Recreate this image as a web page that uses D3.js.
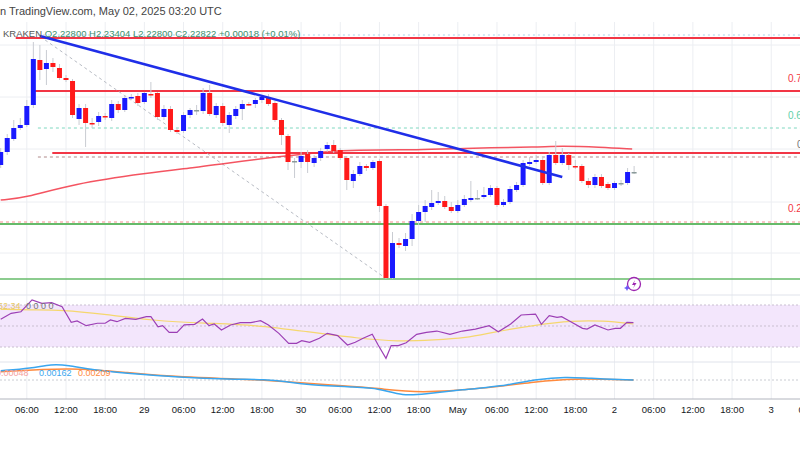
<!DOCTYPE html>
<html>
<head>
<meta charset="utf-8">
<script src="https://cdn.jsdelivr.net/npm/d3@7"></script>
<style>
  body { margin: 0; background: #fff; overflow: hidden; }
  text { font-family: "Liberation Sans", Arial, sans-serif; }
</style>
</head>
<body>
<div id="chart"></div>
<script>
// hourly candles, index 0 = Apr 28 02:00 UTC ; [open, high, low, close]
var candles = [
  [2.235,2.252,2.232,2.248],[2.248,2.266,2.245,2.262],[2.261,2.280,2.259,2.272],[2.272,2.282,2.270,2.275],
  [2.275,2.300,2.273,2.294],[2.295,2.358,2.292,2.341],[2.340,2.355,2.320,2.330],[2.331,2.350,2.315,2.337],
  [2.337,2.342,2.328,2.333],[2.332,2.336,2.320,2.322],[2.322,2.325,2.318,2.320],[2.319,2.321,2.282,2.285],
  [2.281,2.296,2.275,2.292],[2.292,2.296,2.253,2.277],[2.277,2.282,2.272,2.276],[2.278,2.288,2.274,2.284],
  [2.284,2.287,2.280,2.283],[2.282,2.300,2.279,2.296],[2.296,2.299,2.287,2.290],[2.290,2.305,2.288,2.302],
  [2.302,2.306,2.300,2.303],[2.304,2.307,2.294,2.297],[2.298,2.308,2.296,2.307],[2.306,2.318,2.302,2.305],
  [2.307,2.308,2.280,2.283],[2.283,2.295,2.280,2.291],[2.291,2.294,2.268,2.270],[2.270,2.272,2.266,2.268],
  [2.269,2.288,2.267,2.285],[2.285,2.292,2.282,2.290],[2.290,2.295,2.285,2.290],[2.289,2.312,2.286,2.307],
  [2.307,2.315,2.284,2.286],[2.285,2.297,2.282,2.294],[2.294,2.297,2.274,2.277],[2.275,2.288,2.267,2.285],
  [2.284,2.294,2.281,2.291],[2.291,2.300,2.280,2.296],[2.296,2.298,2.294,2.295],[2.296,2.302,2.292,2.300],
  [2.300,2.305,2.297,2.303],[2.303,2.306,2.294,2.296],[2.297,2.299,2.278,2.280],[2.280,2.282,2.255,2.265],
  [2.264,2.266,2.230,2.238],[2.239,2.242,2.222,2.239],[2.238,2.248,2.232,2.244],[2.246,2.250,2.227,2.238],
  [2.237,2.245,2.233,2.242],[2.242,2.252,2.239,2.249],[2.251,2.258,2.248,2.255],[2.255,2.260,2.247,2.249],
  [2.250,2.252,2.240,2.242],[2.242,2.244,2.210,2.220],[2.219,2.230,2.212,2.226],[2.226,2.238,2.224,2.234],
  [2.234,2.236,2.229,2.232],[2.232,2.240,2.230,2.238],[2.239,2.241,2.188,2.194],[2.194,2.196,2.121,2.122],
  [2.122,2.168,2.121,2.157],[2.157,2.162,2.152,2.155],[2.154,2.167,2.149,2.161],[2.161,2.186,2.154,2.179],
  [2.179,2.195,2.175,2.188],[2.188,2.200,2.178,2.194],[2.193,2.210,2.190,2.197],[2.197,2.208,2.195,2.199],
  [2.199,2.204,2.191,2.193],[2.193,2.198,2.187,2.189],[2.189,2.200,2.187,2.195],[2.195,2.205,2.193,2.201],
  [2.200,2.219,2.198,2.202],[2.202,2.210,2.200,2.202],[2.203,2.213,2.201,2.205],[2.205,2.215,2.203,2.212],
  [2.212,2.214,2.193,2.195],[2.195,2.201,2.193,2.198],[2.198,2.214,2.196,2.211],[2.210,2.218,2.208,2.215],
  [2.215,2.240,2.213,2.237],[2.236,2.243,2.234,2.238],[2.238,2.245,2.236,2.240],[2.240,2.244,2.215,2.217],
  [2.217,2.248,2.215,2.245],[2.245,2.259,2.235,2.237],[2.237,2.252,2.235,2.245],[2.245,2.247,2.230,2.235],
  [2.234,2.240,2.231,2.233],[2.234,2.236,2.217,2.219],[2.219,2.222,2.212,2.215],[2.215,2.226,2.212,2.223],
  [2.223,2.226,2.212,2.214],[2.216,2.218,2.210,2.212],[2.212,2.219,2.210,2.217],[2.217,2.220,2.214,2.217],
  [2.217,2.232,2.215,2.228],[2.228,2.234,2.226,2.228]
];

// moving average (red) [index, price]
var maLine = [[0,2.200],[3.7,2.202],[11,2.216],[22.4,2.227],[30.5,2.233],[33.6,2.236],[43.2,2.244],
  [50.9,2.249],[53.5,2.250],[64.2,2.250],[71.9,2.252],[82.6,2.253],[85.6,2.254],[91.8,2.253],[96.7,2.251]];

// horizontal levels
var fibLevels = [
  {p:2.362, c:"#f23645", w:2, dash:null, x0:2.3},
  {p:2.309, c:"#f23645", w:2, dash:null, x0:4.8},
  {p:2.272, c:"#7fd8c0", w:1, dash:"3,3", x0:5.7},
  {p:2.247, c:"#f23645", w:2, dash:null, x0:7.9},
  {p:2.243, c:"#b08a8a", w:1, dash:"3,3", x0:5.7},
  {p:2.178, c:"#f28c8c", w:1, dash:"3,3", x0:-1},
  {p:2.176, c:"#66bb6a", w:2, dash:null, x0:-1},
  {p:2.121, c:"#66bb6a", w:1.5, dash:null, x0:-1},
  {p:2.365, c:"#a9d4e8", w:1, dash:"2,3", x0:5.7}
];
var fibLabels = [
  {p:2.318, t:"0.786", c:"#f23645", x:788},
  {p:2.281, t:"0.618", c:"#5fcfaa", x:788},
  {p:2.252, t:"0.5", c:"#777", x:797},
  {p:2.188, t:"0.236", c:"#f23645", x:788}
];
var trendLine = [[6.0,2.364],[86,2.223]];
var fibDiag = [[6.8,2.360],[58.9,2.122]];
var gridPrices = [2.355,2.303,2.251,2.198,2.147];

// RSI
var rsi = [[0,56.4],[1.6,62.1],[3.1,63.6],[4.8,74.8],[6.3,71.6],[7.8,72.2],[9.4,68.4],[10.8,53.5],[11.7,54.8],
  [13.1,50.3],[14.8,52.6],[16,52.6],[16.8,55.7],[17.8,54.1],[19.1,57.3],[20.7,56.4],[22.3,58.9],[23,58.9],
  [24.1,49.3],[24.8,50.3],[25.8,44],[27,44],[28.1,51],[29.7,51.6],[30.9,56.7],[31.9,50.3],[32.7,51.9],
  [33.8,46.2],[35.2,51],[36.7,53.2],[38.3,53.2],[39.8,55.1],[41,51],[42.6,43],[44.1,33.5],[45.3,33.5],
  [46.1,36],[47.3,34.5],[48.8,38.3],[50,43],[51.6,40.8],[53.1,31.9],[54.3,34.5],[55.5,38.3],[56.9,42.1],
  [57.8,31.9],[59,19.2],[59.8,31.3],[60.9,31.3],[62.1,34.1],[63.7,42.1],[65.2,44],[66.8,45.2],[68.8,42.1],
  [70.7,45.2],[72.7,47.1],[74.8,50.3],[76.2,44.6],[78.1,51.9],[79.7,60.5],[81.9,61.4],[82.8,51.6],[84,59.8],
  [85.2,58.3],[85.9,58.9],[87.3,54.1],[89.1,47.8],[89.8,47.1],[91,51],[93,46.2],[94.1,47.8],[94.9,47.8],
  [95.9,53.5],[96.9,53.2]];
var rsiMa = [[0,65.9],[4.7,65.2],[9.4,65.2],[15.6,61.4],[23.4,55.1],[31.3,52.6],[39.1,51],[46.9,44.6],
  [54.7,38.3],[60.9,35.1],[66.4,36.7],[71.1,38.3],[75.8,44.6],[82,51],[87.5,55.1],[92.2,55.1],[96.9,51.9]];

// MACD
var macd = [[0,0.00093],[4.7,0.00117],[7.8,0.0016],[10.2,0.0015],[14.1,0.001],[19.5,0.00067],[27.3,0.00027],
  [35.2,0.00007],[40.6,0.00007],[43.8,-0.00017],[46.9,-0.0005],[54.7,-0.00073],[57.8,-0.00083],[61.7,-0.0016],
  [64.8,-0.0014],[70.3,-0.001],[78.1,-0.0005],[82,0.00007],[86.7,0.00033],[89.8,0.00017],[96.9,0]];
var signal = [[0,0.00083],[10.9,0.00127],[19.5,0.00073],[27.3,0.00027],[39.1,0.00007],[46.9,-0.00033],
  [54.7,-0.00067],[57.8,-0.00083],[64.1,-0.00133],[74.2,-0.00083],[82,-0.00017],[87.5,0.00017],[96.9,0]];

// time axis ticks (hour index)
var tickIdx = [4,10,16,22,28,34,40,46,52,58,64,70,76,82,88,94,100,106,112,118,124];
var tickLabels = ["06:00","12:00","18:00","29","06:00","12:00","18:00","30","06:00","12:00","18:00","May",
  "06:00","12:00","18:00","2","06:00","12:00","18:00","3","06:00"];

var W = 800, H = 449;
var svg = d3.select("#chart").append("svg").attr("width", W).attr("height", H);

var x = d3.scaleLinear().domain([0, 1]).range([0.7, 7.23]);
var y = d3.scaleLinear().domain([2.40, 2.105]).range([0, 295]);
var yR = d3.scaleLinear().domain([30, 70]).range([347, 305]);
var yM = d3.scaleLinear().domain([0, 0.001]).range([380, 370]);

// grid
svg.append("g").selectAll("line").data(tickIdx).enter().append("line")
  .attr("x1", d => x(d)).attr("x2", d => x(d)).attr("y1", 22).attr("y2", 399)
  .attr("stroke", "#eceef2");
svg.append("g").selectAll("line").data(gridPrices).enter().append("line")
  .attr("x1", 0).attr("x2", W).attr("y1", d => y(d)).attr("y2", d => y(d))
  .attr("stroke", "#eceef2");
[295, 362].forEach(function (v) {
  svg.append("line").attr("x1", 0).attr("x2", W).attr("y1", v).attr("y2", v).attr("stroke", "#e0e3eb");
});

// levels
svg.append("g").selectAll("line").data(fibLevels).enter().append("line")
  .attr("x1", d => Math.max(0, x(d.x0))).attr("x2", W)
  .attr("y1", d => y(d.p)).attr("y2", d => y(d.p))
  .attr("stroke", d => d.c).attr("stroke-width", d => d.w)
  .attr("stroke-dasharray", d => d.dash);
svg.append("g").selectAll("text").data(fibLabels).enter().append("text")
  .attr("x", d => d.x).attr("y", d => y(d.p)).attr("font-size", 10)
  .attr("fill", d => d.c).text(d => d.t);

var line = d3.line().x(d => x(d[0]));
svg.append("path").datum(fibDiag)
  .attr("d", line.y(d => y(d[1]))).attr("fill", "none")
  .attr("stroke", "#b8bcc4").attr("stroke-dasharray", "3,3");
svg.append("path").datum(maLine)
  .attr("d", d3.line().x(d => x(d[0])).y(d => y(d[1])).curve(d3.curveBasis))
  .attr("fill", "none").attr("stroke", "#f23645").attr("stroke-width", 1.5).attr("opacity", 0.85);

// candles
function col(d) { return d[3] > d[0] ? "#1a1aff" : d[3] < d[0] ? "#ff1a1a" : "#8a9a9a"; }
var cg = svg.append("g");
cg.selectAll("line").data(candles).enter().append("line")
  .attr("x1", (d, i) => x(i)).attr("x2", (d, i) => x(i))
  .attr("y1", d => y(d[1])).attr("y2", d => y(d[2]))
  .attr("stroke", "#c9ccd2");
cg.selectAll("rect").data(candles).enter().append("rect")
  .attr("x", (d, i) => x(i) - 2.5).attr("width", 5)
  .attr("y", d => y(Math.max(d[0], d[3])))
  .attr("height", d => Math.max(1.5, Math.abs(y(d[0]) - y(d[3]))))
  .attr("fill", col);

svg.append("path").datum(trendLine)
  .attr("d", d3.line().x(d => x(d[0])).y(d => y(d[1])))
  .attr("stroke", "#1f2ee8").attr("stroke-width", 2.5);

// RSI pane
svg.append("rect").attr("x", 0).attr("width", W).attr("y", yR(70)).attr("height", yR(30) - yR(70))
  .attr("fill", "#f3e6fc");
[70, 50, 30].forEach(function (v) {
  svg.append("line").attr("x1", 0).attr("x2", W).attr("y1", yR(v)).attr("y2", yR(v))
    .attr("stroke", "#c9bfd0").attr("stroke-dasharray", "2,2");
});
svg.append("path").datum(rsiMa)
  .attr("d", d3.line().x(d => x(d[0])).y(d => yR(d[1])).curve(d3.curveBasis))
  .attr("fill", "none").attr("stroke", "#f5d76e").attr("stroke-width", 1.2);
svg.append("path").datum(rsi)
  .attr("d", d3.line().x(d => x(d[0])).y(d => yR(d[1])))
  .attr("fill", "none").attr("stroke", "#9c3fb5").attr("stroke-width", 1.2);
svg.append("text").attr("x", -2).attr("y", 309).attr("font-size", 9).attr("fill", "#e8c860").text("52.34");
svg.append("text").attr("x", 26).attr("y", 309).attr("font-size", 9).attr("fill", "#777").text("0  0  0  0");

// MACD pane
svg.append("line").attr("x1", 0).attr("x2", W).attr("y1", yM(0)).attr("y2", yM(0))
  .attr("stroke", "#c9ccd2").attr("stroke-dasharray", "2,2");
svg.append("path").datum(signal)
  .attr("d", d3.line().x(d => x(d[0])).y(d => yM(d[1])).curve(d3.curveBasis))
  .attr("fill", "none").attr("stroke", "#ff8a3d").attr("stroke-width", 1.5);
svg.append("path").datum(macd)
  .attr("d", d3.line().x(d => x(d[0])).y(d => yM(d[1])).curve(d3.curveBasis))
  .attr("fill", "none").attr("stroke", "#3aa6ef").attr("stroke-width", 1.5);
svg.append("text").attr("x", -4).attr("y", 376).attr("font-size", 9).attr("fill", "#f5a0a0").text("0.00048");
svg.append("text").attr("x", 39).attr("y", 376).attr("font-size", 9).attr("fill", "#3aa6ef").text("0.00162");
svg.append("text").attr("x", 78).attr("y", 376).attr("font-size", 9).attr("fill", "#ff8a3d").text("0.00209");

// time axis
svg.append("line").attr("x1", 0).attr("x2", W).attr("y1", 399).attr("y2", 399).attr("stroke", "#b2b5be");
svg.append("g").selectAll("text").data(tickIdx).enter().append("text")
  .attr("x", d => x(d)).attr("y", 413).attr("text-anchor", "middle")
  .attr("font-size", 9.5).attr("fill", "#131722").text((d, i) => tickLabels[i]);
svg.append("rect").attr("x", 0).attr("y", 422).attr("width", W).attr("height", 27).attr("fill", "#fff");

// header texts
svg.append("text").attr("x", 0).attr("y", 15).attr("font-size", 11).attr("fill", "#444")
  .text("n TradingView.com, May 02, 2025 03:20 UTC");
var leg = svg.append("text").attr("x", 3).attr("y", 37).attr("font-size", 9.5).attr("fill", "#3d8f6e");
leg.append("tspan").attr("fill", "#555").text("KRAKEN  ");
leg.append("tspan").text("O2.22800  H2.23404  L2.22800  C2.22822  +0.00018 (+0.01%)");

// assistant icon
var ic = svg.append("g").attr("transform", "translate(634,284)");
ic.append("circle").attr("r", 6.5).attr("fill", "#fff").attr("stroke", "#9c27b0").attr("stroke-width", 1.3);
ic.append("path").attr("d", "M1,-4 L-2,1 L0.5,1 L-1,4.5 L2.5,-1 L0,-1 Z").attr("fill", "#9c27b0");
ic.append("path").attr("d", "M-7,1 L-6,3 L-4,4 L-6,5 L-7,7 L-8,5 L-10,4 L-8,3 Z").attr("fill", "#6a5af9");
</script>
</body>
</html>
